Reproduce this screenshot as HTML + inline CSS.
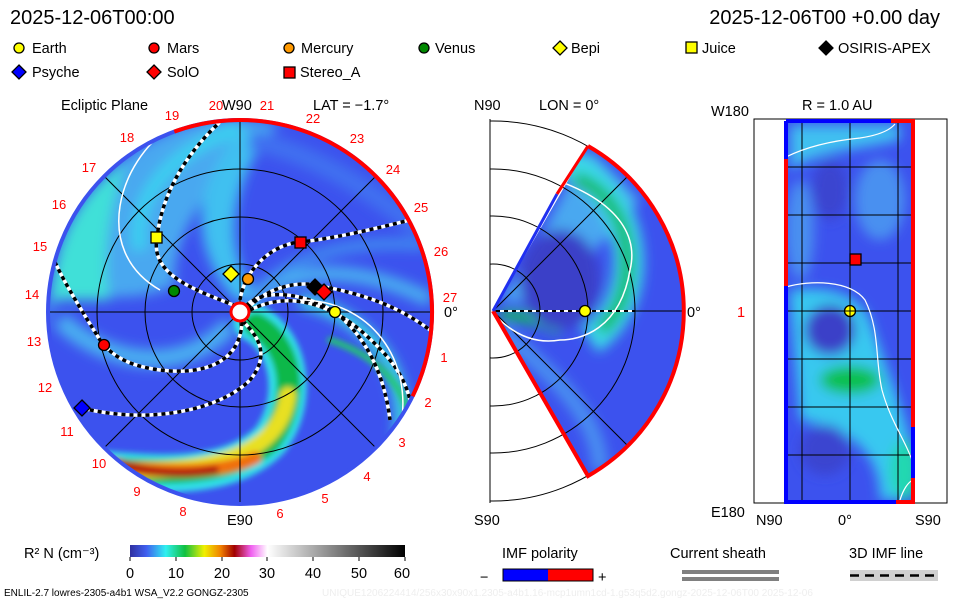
<!DOCTYPE html>
<html><head><meta charset="utf-8"><style>
html,body{margin:0;padding:0;background:#fff}
svg{display:block}
text{font-family:"Liberation Sans",sans-serif}
</style></head><body>
<svg width="960" height="600" viewBox="0 0 960 600" xmlns="http://www.w3.org/2000/svg">
<defs>
<clipPath id="disk"><circle cx="240" cy="312" r="192"/></clipPath>
<clipPath id="wedge"><path d="M493,311 L588,146 A190,190 0 0 1 588,476 Z"/></clipPath>
<clipPath id="midframe"><rect x="490" y="119" width="300" height="384"/></clipPath>
<clipPath id="rect"><rect x="785" y="122" width="128" height="380"/></clipPath>
<filter id="b6" x="-20%" y="-20%" width="140%" height="140%"><feGaussianBlur stdDeviation="6"/></filter>
<filter id="b3" x="-20%" y="-20%" width="140%" height="140%"><feGaussianBlur stdDeviation="3"/></filter>
<linearGradient id="cb" x1="0" x2="1" y1="0" y2="0">
<stop offset="0" stop-color="#3030a0"/><stop offset="0.06" stop-color="#4060f0"/><stop offset="0.13" stop-color="#30f0f0"/><stop offset="0.2" stop-color="#10c040"/><stop offset="0.27" stop-color="#f0f000"/><stop offset="0.33" stop-color="#f08000"/><stop offset="0.38" stop-color="#a00000"/><stop offset="0.44" stop-color="#f060f0"/><stop offset="0.5" stop-color="#ffffff"/><stop offset="1" stop-color="#000"/>
</linearGradient>
</defs>

<text x="10" y="24" font-size="20">2025-12-06T00:00</text>
<text x="940" y="24" font-size="20" text-anchor="end">2025-12-06T00 +0.00 day</text>

<g font-size="14.5" stroke="#000" stroke-width="1.3">
<circle cx="19" cy="48" r="5" fill="#ff0"/><circle cx="154" cy="48" r="5" fill="#f00"/><circle cx="289" cy="48" r="5" fill="#f90"/><circle cx="424" cy="48" r="5" fill="#080"/>
<path d="M560,41 L567,48 L560,55 L553,48Z" fill="#ff0"/>
<rect x="686" y="42" width="11" height="11" fill="#ff0"/>
<path d="M826,41 L833,48 L826,55 L819,48Z" fill="#000"/>
<path d="M19,65 L26,72 L19,79 L12,72Z" fill="#00f"/>
<path d="M154,65 L161,72 L154,79 L147,72Z" fill="#f00"/>
<rect x="284" y="67" width="11" height="11" fill="#f00"/>
</g>
<g font-size="14.5">
<text x="32" y="53">Earth</text><text x="167" y="53">Mars</text><text x="301" y="53">Mercury</text><text x="435" y="53">Venus</text>
<text x="571" y="53">Bepi</text><text x="702" y="53">Juice</text><text x="838" y="53">OSIRIS-APEX</text>
<text x="32" y="77">Psyche</text><text x="167" y="77">SolO</text><text x="300" y="77">Stereo_A</text>
</g>

<text x="61" y="110" font-size="14.5">Ecliptic Plane</text>
<text x="222" y="110" font-size="14.5">W90</text>
<text x="313" y="110" font-size="14.5">LAT = −1.7°</text>
<g clip-path="url(#disk)">
<rect x="40" y="110" width="400" height="410" fill="#3c52ee"/>
<g filter="url(#b6)">
<path d="M45,330 C60,180 150,120 235,118 L280,125 C220,170 170,230 175,285 C150,300 100,300 60,290Z" fill="#48a8f0"/>
<path d="M50,300 C55,230 85,190 125,160 C110,210 100,260 110,300Z" fill="#40e0d8"/>
<path d="M235,300 C200,260 180,200 240,130 L270,130 C230,190 220,250 260,300Z" fill="#40c0f0"/>
<path d="M140,250 C130,200 170,150 240,128" stroke="#3ad0f0" stroke-width="14" fill="none"/>
<path d="M60,320 C100,360 180,380 230,325" stroke="#4ab0f0" stroke-width="18" fill="none"/>
<path d="M250,300 C300,260 370,270 430,300" stroke="#48b0f0" stroke-width="14" fill="none"/>
<path d="M255,292 C300,250 360,240 425,245" stroke="#4090f0" stroke-width="10" fill="none"/>
<path d="M300,300 C380,320 410,380 400,440" stroke="#3ad8e0" stroke-width="14" fill="none"/>
<path d="M250,140 C300,150 360,180 420,230" stroke="#4070f0" stroke-width="20" fill="none"/>
</g>
<g filter="url(#b3)" fill="none" stroke-linecap="round">
<path d="M252,322 C290,340 300,400 270,440 C230,480 160,475 105,470" stroke="#30e0e8" stroke-width="38"/>
<path d="M256,325 C292,345 300,400 270,440 C230,478 160,472 105,470" stroke="#10b848" stroke-width="24"/>
<path d="M288,395 C282,440 240,470 140,470" stroke="#e8e020" stroke-width="16"/>
<path d="M255,458 C220,474 160,472 110,466" stroke="#f07010" stroke-width="13"/>
<path d="M215,470 C180,476 140,472 118,462" stroke="#b01010" stroke-width="8"/>
<path d="M330,340 C390,360 410,400 410,430" stroke="#20c870" stroke-width="6"/>
</g>
<g stroke="#000" stroke-width="1" fill="none">
<circle cx="240" cy="312" r="48"/><circle cx="240" cy="312" r="95"/><circle cx="240" cy="312" r="143"/>
<line x1="40" y1="312" x2="440" y2="312"/><line x1="240" y1="110" x2="240" y2="520"/>
<line x1="100" y1="172" x2="380" y2="452"/><line x1="380" y1="172" x2="100" y2="452"/>
</g>
<g fill="none" stroke-width="3.5">
<g stroke="#fff">
<path id="l1" d="M236,306 C195,290 150,275 157,238 C162,190 190,150 220,122"/>
<path id="l2" d="M242,322 C240,365 200,375 160,370 C120,365 108,350 100,340 C75,300 60,275 52,255"/>
<path id="l3" d="M82,408 C150,425 220,410 250,380 C275,350 250,330 244,322"/>
<path id="l4" d="M246,306 C260,290 300,290 335,312 C370,340 385,380 390,420"/>
<path id="l5" d="M240,300 C245,270 270,245 300,242 C340,238 390,225 430,215"/>
<path id="l6" d="M248,308 C270,285 300,282 316,285 C350,292 390,300 430,330"/>
<path id="l7" d="M250,310 C290,290 330,305 360,330 C395,360 405,380 410,400"/>
</g>
<g stroke="#000" stroke-dasharray="4,4">
<use href="#l1"/><use href="#l2"/><use href="#l3"/><use href="#l4"/><use href="#l5"/><use href="#l6"/><use href="#l7"/>
</g>
<g stroke="#fff" stroke-width="1.5">
<path d="M160,290 C90,250 120,160 170,128"/>
<path d="M300,300 C370,300 415,360 400,430"/>
</g>
</g>
</g>
<circle cx="240" cy="312" r="192" fill="none" stroke="#3c52ee" stroke-width="4"/>
<path d="M174.3,131.6 A192,192 0 0 1 412.6,396.2" fill="none" stroke="#f00" stroke-width="4"/>
<circle cx="240" cy="312" r="9" fill="#fff" stroke="#f00" stroke-width="3"/>
<g stroke="#000" stroke-width="1.3">
<circle cx="335" cy="312" r="5.5" fill="#ff0"/>
<circle cx="104" cy="345" r="5.5" fill="#f00"/>
<circle cx="248" cy="279" r="5.5" fill="#f90"/>
<circle cx="174" cy="291" r="5.5" fill="#080"/>
<path d="M231,266 L239,274 L231,282 L223,274Z" fill="#ff0"/>
<rect x="151" y="232" width="11" height="11" fill="#ff0"/>
<path d="M315,279 L323,287 L315,295 L307,287Z" fill="#000"/>
<path d="M324,284 L332,292 L324,300 L316,292Z" fill="#f00"/>
<path d="M82,400 L90,408 L82,416 L74,408Z" fill="#00f"/>
<rect x="295" y="237" width="11" height="11" fill="#f00"/>
</g>
<g fill="#f00" font-size="13" text-anchor="middle">
<text x="172" y="120">19</text><text x="216" y="110">20</text><text x="267" y="110">21</text><text x="313" y="123">22</text>
<text x="357" y="143">23</text><text x="393" y="174">24</text><text x="421" y="212">25</text><text x="441" y="256">26</text>
<text x="450" y="302">27</text><text x="444" y="362">1</text><text x="428" y="407">2</text><text x="402" y="447">3</text>
<text x="367" y="481">4</text><text x="325" y="503">5</text><text x="280" y="518">6</text><text x="183" y="516">8</text>
<text x="137" y="496">9</text><text x="99" y="468">10</text><text x="67" y="436">11</text><text x="45" y="392">12</text>
<text x="34" y="346">13</text><text x="32" y="299">14</text><text x="40" y="251">15</text><text x="59" y="209">16</text>
<text x="89" y="172">17</text><text x="127" y="142">18</text>
</g>
<text x="227" y="525" font-size="14.5">E90</text>
<text x="444" y="317" font-size="14.5">0°</text>

<text x="474" y="110" font-size="14.5">N90</text>
<text x="539" y="110" font-size="14.5">LON = 0°</text>
<text x="474" y="525" font-size="14.5">S90</text>
<g clip-path="url(#midframe)" fill="none" stroke="#000" stroke-width="1">
<circle cx="493" cy="311" r="47"/><circle cx="493" cy="311" r="95"/><circle cx="493" cy="311" r="142"/><circle cx="493" cy="311" r="190"/>
</g>
<line x1="490" y1="119" x2="490" y2="503" stroke="#000"/>
<g clip-path="url(#wedge)">
<rect x="480" y="130" width="220" height="360" fill="#3c52ee"/>
<g filter="url(#b6)">
<path d="M500,300 C540,250 560,190 590,150 L640,200 C600,250 560,280 540,305Z" fill="#48a8f0"/>
<path d="M560,160 C640,190 650,300 590,340" stroke="#3ad8e8" stroke-width="30" fill="none"/>
<path d="M575,178 C640,200 640,300 600,330" stroke="#10b848" stroke-width="12" fill="none"/>
<path d="M500,315 C520,315 540,320 560,330" stroke="#10c050" stroke-width="10" fill="none"/>
<ellipse cx="560" cy="280" rx="40" ry="50" fill="#3a40c8"/>
<path d="M500,330 C560,380 600,420 600,470" stroke="#4890f0" stroke-width="16" fill="none"/>
</g>
<g fill="none" stroke="#000" stroke-width="1">
<circle cx="493" cy="311" r="47"/><circle cx="493" cy="311" r="95"/><circle cx="493" cy="311" r="142"/>
<line x1="493" y1="311" x2="700" y2="311"/><line x1="493" y1="311" x2="640" y2="164"/><line x1="493" y1="311" x2="640" y2="458"/>
</g>
<path d="M520,170 C610,190 640,230 630,270 C620,330 580,340 560,340 C530,345 510,330 498,318" stroke="#fff" stroke-width="1.5" fill="none"/>
<line x1="496" y1="311" x2="635" y2="311" stroke="#fff" stroke-width="2"/>
<line x1="496" y1="311" x2="635" y2="311" stroke="#000" stroke-width="2" stroke-dasharray="4,4"/>
</g>
<path d="M588,146 A190,190 0 0 1 588,476 L493,311" fill="none" stroke="#f00" stroke-width="4"/>
<path d="M493,311 L557,194" stroke="#2030f0" stroke-width="3"/>
<path d="M557,194 L588,146" stroke="#f00" stroke-width="3"/>
<circle cx="585" cy="311" r="5.5" fill="#ff0" stroke="#000" stroke-width="1.3"/>
<text x="687" y="317" font-size="14.5">0°</text>

<text x="802" y="110" font-size="14.5">R = 1.0 AU</text>
<text x="711" y="116" font-size="14.5">W180</text>
<text x="711" y="517" font-size="14.5">E180</text>
<text x="756" y="525" font-size="14.5">N90</text>
<text x="838" y="525" font-size="14.5">0°</text>
<text x="915" y="525" font-size="14.5">S90</text>
<text x="737" y="317" font-size="14.5" fill="#f00">1</text>
<rect x="754" y="119" width="193" height="384" fill="none" stroke="#000"/>
<g clip-path="url(#rect)">
<rect x="780" y="118" width="140" height="390" fill="#3c52ee"/>
<g filter="url(#b6)">
<path d="M790,125 L900,125 L900,140 C860,150 820,150 790,170Z" fill="#40c0f0"/>
<ellipse cx="800" cy="230" rx="14" ry="50" fill="#4890f0"/>
<ellipse cx="880" cy="200" rx="25" ry="40" fill="#4890f0"/>
<path d="M790,290 C830,285 860,295 870,320 C880,350 900,400 910,440 L910,500 L880,500 C880,460 860,430 800,420 L790,300Z" fill="#38c8f0"/>
<ellipse cx="850" cy="380" rx="30" ry="14" fill="#10c050"/>
<ellipse cx="905" cy="470" rx="15" ry="30" fill="#20d8b0"/>
<ellipse cx="830" cy="330" rx="25" ry="25" fill="#3a40c8"/>
<ellipse cx="825" cy="450" rx="25" ry="25" fill="#3a44d0"/>
<ellipse cx="830" cy="190" rx="18" ry="30" fill="#3a44d0"/>
</g>
<g stroke="#000" stroke-width="1">
<line x1="754" y1="167" x2="947" y2="167"/><line x1="754" y1="215" x2="947" y2="215"/><line x1="754" y1="263" x2="947" y2="263"/>
<line x1="754" y1="311" x2="947" y2="311"/><line x1="754" y1="359" x2="947" y2="359"/><line x1="754" y1="407" x2="947" y2="407"/>
<line x1="754" y1="455" x2="947" y2="455"/>
<line x1="802" y1="119" x2="802" y2="503"/><line x1="850" y1="119" x2="850" y2="503"/><line x1="898" y1="119" x2="898" y2="503"/>
</g>
<path d="M786,157 C810,145 840,140 860,138 C880,135 890,130 895,124" stroke="#fff" stroke-width="1.2" fill="none"/>
<path d="M786,287 C810,280 850,280 865,300 C880,330 875,360 882,390 C890,420 905,440 912,460" stroke="#fff" stroke-width="1.2" fill="none"/>
<path d="M900,500 C903,490 908,482 913,480" stroke="#fff" stroke-width="1.2" fill="none"/>
</g>
<g fill="none" stroke-width="4">
<path d="M786,121 L891,121" stroke="#00f"/><path d="M891,121 L913,121 L913,427" stroke="#f00"/>
<path d="M913,427 L913,478" stroke="#00f"/><path d="M913,478 L913,502 L896,502" stroke="#f00"/>
<path d="M896,502 L786,502 L786,286" stroke="#00f"/><path d="M786,286 L786,159" stroke="#f00"/><path d="M786,159 L786,121" stroke="#00f"/>
</g>
<rect x="850" y="254" width="11" height="11" fill="#f00" stroke="#000" stroke-width="1.3"/>
<circle cx="850" cy="311" r="5.5" fill="#ff0" stroke="#000" stroke-width="1.3"/>
<line x1="845" y1="311" x2="855" y2="311" stroke="#000"/><line x1="850" y1="306" x2="850" y2="316" stroke="#000"/>

<text x="24" y="558" font-size="14.5">R² N (cm⁻³)</text>
<rect x="130" y="545" width="275" height="12" fill="url(#cb)"/>
<g stroke="#000"><line x1="130" y1="557" x2="130" y2="561"/><line x1="176" y1="557" x2="176" y2="561"/><line x1="222" y1="557" x2="222" y2="561"/><line x1="267" y1="557" x2="267" y2="561"/><line x1="313" y1="557" x2="313" y2="561"/><line x1="359" y1="557" x2="359" y2="561"/><line x1="405" y1="557" x2="405" y2="561"/></g>
<g font-size="14.5" text-anchor="middle">
<text x="130" y="578">0</text><text x="176" y="578">10</text><text x="222" y="578">20</text><text x="267" y="578">30</text><text x="313" y="578">40</text><text x="359" y="578">50</text><text x="402" y="578">60</text>
</g>
<text x="502" y="558" font-size="14.5">IMF polarity</text>
<text x="480" y="582" font-size="14.5">−</text>
<rect x="503" y="569" width="45" height="12" fill="#00f"/><rect x="548" y="569" width="45" height="12" fill="#f00"/>
<rect x="503" y="569" width="90" height="12" fill="none" stroke="#000"/>
<text x="598" y="582" font-size="14.5">+</text>
<text x="670" y="558" font-size="14.5">Current sheath</text>
<rect x="682" y="570" width="97" height="4" fill="#808080"/><rect x="682" y="577" width="97" height="4" fill="#808080"/>
<text x="849" y="558" font-size="14.5">3D IMF line</text>
<rect x="850" y="570" width="88" height="11" fill="#d0d0d0"/>
<line x1="850" y1="575.5" x2="938" y2="575.5" stroke="#000" stroke-width="2.5" stroke-dasharray="9,6"/>
<text x="4" y="596" font-size="10">ENLIL-2.7 lowres-2305-a4b1 WSA_V2.2 GONGZ-2305</text>
<text x="322" y="596" font-size="10" fill="#eeeeee">UNIQUE1206224414/256x30x90x1.2305-a4b1.16-mcp1umn1cd-1.g53q5d2.gongz-2025-12-06T00    2025-12-06</text>
</svg>
</body></html>
